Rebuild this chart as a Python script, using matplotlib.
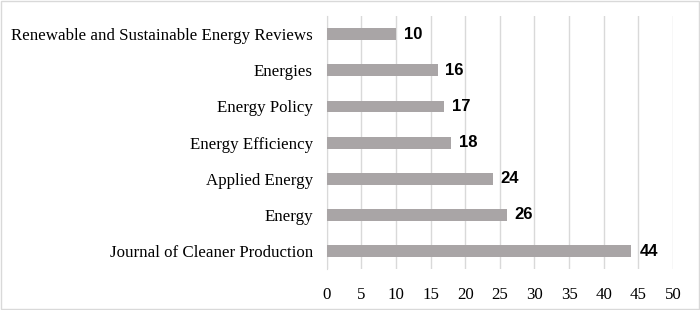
import numpy as np
import matplotlib.pyplot as plt

journals = ['Journal of Cleaner Production', 'Energy', 'Applied Energy',
            'Energy Efficiency', 'Energy Policy', 'Energies',
            'Renewable and Sustainable Energy Reviews']
counts = [44, 26, 24, 18, 17, 16, 10]
xticks = [0, 5, 10, 15, 20, 25, 30, 35, 40, 45, 50]

fig = plt.figure(figsize=(7, 3.1), dpi=100)
ax = fig.add_axes([0.4667, 0.132, 0.4947, 0.816])

y = np.arange(len(journals))
ax.barh(y, counts, height=0.33, color='#A9A5A6', zorder=3)
for yi, c in zip(y, counts):
    ax.text(c + 1.15, yi, str(c), va='center', ha='left', fontsize=12,
            fontweight='bold', family='Liberation Sans', zorder=4)

ax.set_xlim(0, 50)
ax.set_ylim(-0.5, len(journals) - 0.5)
ax.set_xticks(xticks)
ax.set_xticklabels([str(t) for t in xticks], family='Liberation Serif', fontsize=12.2)
ax.set_yticks(y)
ax.set_yticklabels(journals, family='Liberation Serif', fontsize=12.2)
ax.tick_params(length=0)
ax.tick_params(axis='y', pad=10)
ax.tick_params(axis='x', pad=13)
ax.grid(axis='x', color='#D9D9D9', linewidth=1, zorder=0)
for s in ['top', 'right', 'bottom']:
    ax.spines[s].set_visible(False)
ax.spines['left'].set_color('#D9D9D9')

# light border round the figure
fig.patches.append(plt.Rectangle((0.002, 0.003), 0.996, 0.994, transform=fig.transFigure,
                                 fill=False, edgecolor='#D9D9D9', linewidth=1))

fig.savefig('out.png', dpi=100)
